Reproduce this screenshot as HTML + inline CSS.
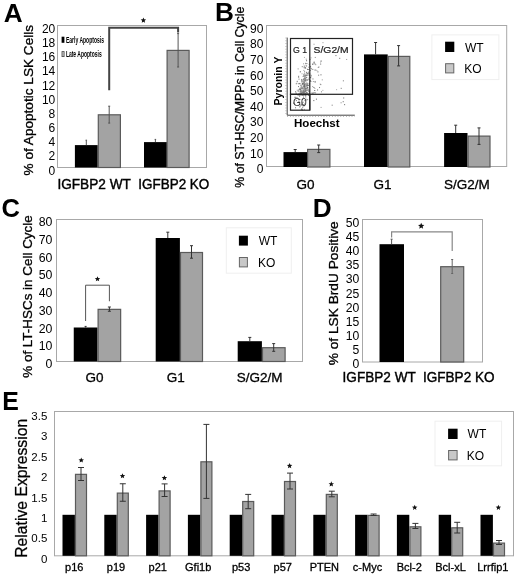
<!DOCTYPE html>
<html><head><meta charset="utf-8"><style>
html,body{margin:0;padding:0;background:#fff;}
svg{display:block;font-family:"Liberation Sans",sans-serif;filter:grayscale(100%);}
</style></head><body>
<svg width="520" height="581" viewBox="0 0 520 581">
<rect width="520" height="581" fill="#fff"/>
<text x="3.65" y="21.9" font-size="26.2" font-weight="bold" text-anchor="start" fill="#000" >A</text>
<rect x="57.5" y="25.5" width="149" height="142" fill="none" stroke="#a8a8a8" stroke-width="1"/>
<text x="55.3" y="174.6" font-size="12" font-weight="normal" text-anchor="end" fill="#000" >0</text>
<text x="55.3" y="160.43" font-size="12" font-weight="normal" text-anchor="end" fill="#000" >2</text>
<text x="55.3" y="146.27" font-size="12" font-weight="normal" text-anchor="end" fill="#000" >4</text>
<text x="55.3" y="132.1" font-size="12" font-weight="normal" text-anchor="end" fill="#000" >6</text>
<text x="55.3" y="117.94" font-size="12" font-weight="normal" text-anchor="end" fill="#000" >8</text>
<text x="55.3" y="103.77" font-size="12" font-weight="normal" text-anchor="end" fill="#000" >10</text>
<text x="55.3" y="89.61" font-size="12" font-weight="normal" text-anchor="end" fill="#000" >12</text>
<text x="55.3" y="75.44" font-size="12" font-weight="normal" text-anchor="end" fill="#000" >14</text>
<text x="55.3" y="61.28" font-size="12" font-weight="normal" text-anchor="end" fill="#000" >16</text>
<text x="55.3" y="47.11" font-size="12" font-weight="normal" text-anchor="end" fill="#000" >18</text>
<text x="55.3" y="32.95" font-size="12" font-weight="normal" text-anchor="end" fill="#000" >20</text>
<text transform="translate(32.53,100.2) rotate(-90)" x="0" y="0" font-size="13.2" font-weight="normal" text-anchor="middle" fill="#000" textLength="150.5" lengthAdjust="spacingAndGlyphs" stroke="#000" stroke-width="0.3">% of Apoptotic LSK Cells</text>
<rect x="74.9" y="145.1" width="22.8" height="22.4" fill="#000"/>
<rect x="98.3" y="114.8" width="22.1" height="52.7" fill="#a3a3a3" stroke="#5a5a5a" stroke-width="1.2"/>
<line x1="86.3" y1="140.2" x2="86.3" y2="145.1" stroke="#555" stroke-width="1" />
<line x1="85.55" y1="140.2" x2="87.05" y2="140.2" stroke="#555" stroke-width="1" />
<line x1="109.2" y1="106.2" x2="109.2" y2="123.1" stroke="#555" stroke-width="1" />
<line x1="108.2" y1="106.2" x2="110.2" y2="106.2" stroke="#555" stroke-width="1" />
<line x1="108.2" y1="123.1" x2="110.2" y2="123.1" stroke="#555" stroke-width="1" />
<rect x="144" y="142.1" width="22.9" height="25.4" fill="#000"/>
<line x1="155.4" y1="139.4" x2="155.4" y2="142.1" stroke="#555" stroke-width="1" />
<line x1="154.65" y1="139.4" x2="156.15" y2="139.4" stroke="#555" stroke-width="1" />
<rect x="167.1" y="50.4" width="22" height="117.1" fill="#a3a3a3" stroke="#5a5a5a" stroke-width="1.2"/>
<line x1="178.1" y1="33.6" x2="178.1" y2="67" stroke="#555" stroke-width="1" />
<line x1="177.1" y1="33.6" x2="179.1" y2="33.6" stroke="#555" stroke-width="1" />
<line x1="177.1" y1="67" x2="179.1" y2="67" stroke="#555" stroke-width="1" />
<polyline points="109.2,90.2 109.2,27.7 178.1,27.7 178.1,32.5" fill="none" stroke="#444" stroke-width="2"/>
<polygon points="143.4,17.54 144.15,19.35 146.11,19.5 144.62,20.78 145.08,22.69 143.4,21.67 141.72,22.69 142.18,20.78 140.69,19.5 142.65,19.35" fill="#111"/>
<rect x="61.6" y="36.7" width="2.8" height="6.1" fill="#000"/>
<rect x="62" y="51.6" width="2.1" height="5" fill="#ccc" stroke="#444" stroke-width="0.8"/>
<text x="65.9" y="42.7" font-size="9.6" font-weight="bold" text-anchor="start" fill="#000" textLength="38.1" lengthAdjust="spacingAndGlyphs">Early Apoptosis</text>
<text x="65.9" y="56.8" font-size="9.6" font-weight="bold" text-anchor="start" fill="#000" textLength="35.8" lengthAdjust="spacingAndGlyphs">Late Apoptosis</text>
<text x="57.4" y="188.7" font-size="13.8" font-weight="normal" text-anchor="start" fill="#000" textLength="73.5" lengthAdjust="spacingAndGlyphs" stroke="#000" stroke-width="0.4">IGFBP2 WT</text>
<text x="138.3" y="188.7" font-size="13.8" font-weight="normal" text-anchor="start" fill="#000" textLength="71" lengthAdjust="spacingAndGlyphs" stroke="#000" stroke-width="0.4">IGFBP2 KO</text>
<text x="214.9" y="21.1" font-size="26.2" font-weight="bold" text-anchor="start" fill="#000" >B</text>
<rect x="266.5" y="25.5" width="240.2" height="141" fill="none" stroke="#a8a8a8" stroke-width="1"/>
<text x="263.4" y="173.1" font-size="12" font-weight="normal" text-anchor="end" fill="#000" >0</text>
<text x="263.4" y="157.51" font-size="12" font-weight="normal" text-anchor="end" fill="#000" >10</text>
<text x="263.4" y="141.92" font-size="12" font-weight="normal" text-anchor="end" fill="#000" >20</text>
<text x="263.4" y="126.33" font-size="12" font-weight="normal" text-anchor="end" fill="#000" >30</text>
<text x="263.4" y="110.74" font-size="12" font-weight="normal" text-anchor="end" fill="#000" >40</text>
<text x="263.4" y="95.15" font-size="12" font-weight="normal" text-anchor="end" fill="#000" >50</text>
<text x="263.4" y="79.56" font-size="12" font-weight="normal" text-anchor="end" fill="#000" >60</text>
<text x="263.4" y="63.97" font-size="12" font-weight="normal" text-anchor="end" fill="#000" >70</text>
<text x="263.4" y="48.38" font-size="12" font-weight="normal" text-anchor="end" fill="#000" >80</text>
<text x="263.4" y="32.8" font-size="12" font-weight="normal" text-anchor="end" fill="#000" >90</text>
<text transform="translate(243.9,97.2) rotate(-90)" x="0" y="0" font-size="12" font-weight="normal" text-anchor="middle" fill="#000" textLength="181" lengthAdjust="spacingAndGlyphs" stroke="#000" stroke-width="0.3">% of ST-HSC/MPPs in Cell Cycle</text>
<rect x="283.5" y="152.1" width="23.5" height="14.9" fill="#000"/>
<line x1="295.2" y1="149.5" x2="295.2" y2="152.1" stroke="#333" stroke-width="1" />
<line x1="293.7" y1="149.5" x2="296.7" y2="149.5" stroke="#333" stroke-width="1" />
<rect x="307.6" y="149.4" width="22.3" height="17.6" fill="#a3a3a3" stroke="#5a5a5a" stroke-width="1.2"/>
<line x1="318.7" y1="145" x2="318.7" y2="152.6" stroke="#333" stroke-width="1" />
<line x1="317.2" y1="145" x2="320.2" y2="145" stroke="#333" stroke-width="1" />
<line x1="317.2" y1="152.6" x2="320.2" y2="152.6" stroke="#333" stroke-width="1" />
<rect x="364" y="54.4" width="23.7" height="112.6" fill="#000"/>
<line x1="375.6" y1="42.5" x2="375.6" y2="54.4" stroke="#333" stroke-width="1" />
<line x1="374.1" y1="42.5" x2="377.1" y2="42.5" stroke="#333" stroke-width="1" />
<rect x="388.3" y="56.4" width="21.5" height="110.6" fill="#a3a3a3" stroke="#5a5a5a" stroke-width="1.2"/>
<line x1="398.6" y1="45.6" x2="398.6" y2="65.9" stroke="#333" stroke-width="1" />
<line x1="397.1" y1="45.6" x2="400.1" y2="45.6" stroke="#333" stroke-width="1" />
<line x1="397.1" y1="65.9" x2="400.1" y2="65.9" stroke="#333" stroke-width="1" />
<rect x="444.1" y="133" width="23.4" height="34" fill="#000"/>
<line x1="455.7" y1="125.2" x2="455.7" y2="133" stroke="#333" stroke-width="1" />
<line x1="454.2" y1="125.2" x2="457.2" y2="125.2" stroke="#333" stroke-width="1" />
<rect x="468.1" y="136.1" width="21.9" height="30.9" fill="#a3a3a3" stroke="#5a5a5a" stroke-width="1.2"/>
<line x1="479" y1="127.9" x2="479" y2="144.4" stroke="#333" stroke-width="1" />
<line x1="477.5" y1="127.9" x2="480.5" y2="127.9" stroke="#333" stroke-width="1" />
<line x1="477.5" y1="144.4" x2="480.5" y2="144.4" stroke="#333" stroke-width="1" />
<rect x="431.9" y="34.9" width="67" height="44.7" fill="none" stroke="#efefef" stroke-width="1"/>
<rect x="445.1" y="41.7" width="9.2" height="10.3" fill="#000"/>
<rect x="445.6" y="63.7" width="8.2" height="9.2" fill="#c8c8c8" stroke="#666" stroke-width="1"/>
<text x="465" y="51.6" font-size="12" font-weight="normal" text-anchor="start" fill="#000" >WT</text>
<text x="464.2" y="73.4" font-size="12" font-weight="normal" text-anchor="start" fill="#000" >KO</text>
<text x="305.4" y="188.5" font-size="13.5" font-weight="normal" text-anchor="middle" fill="#000" stroke="#000" stroke-width="0.3">G0</text>
<text x="382.5" y="188.5" font-size="13.5" font-weight="normal" text-anchor="middle" fill="#000" stroke="#000" stroke-width="0.3">G1</text>
<text x="466.9" y="188.5" font-size="13.5" font-weight="normal" text-anchor="middle" fill="#000" stroke="#000" stroke-width="0.3">S/G2/M</text>
<rect x="304.57" y="91.42" width="1" height="1" fill="#777"/>
<rect x="301.87" y="91.83" width="1" height="1" fill="#666"/>
<rect x="303.38" y="81.98" width="1" height="1" fill="#888"/>
<rect x="305.73" y="79.43" width="1" height="1" fill="#888"/>
<rect x="305.04" y="80.48" width="1" height="1" fill="#777"/>
<rect x="303.76" y="89.47" width="1" height="1" fill="#666"/>
<rect x="308.04" y="71.68" width="1" height="1" fill="#777"/>
<rect x="304.95" y="87.91" width="1" height="1" fill="#888"/>
<rect x="299.76" y="71.32" width="1" height="1" fill="#666"/>
<rect x="302.5" y="82.55" width="1" height="1" fill="#aaa"/>
<rect x="302.87" y="90.72" width="1" height="1" fill="#777"/>
<rect x="301.32" y="87.71" width="1" height="1" fill="#666"/>
<rect x="304.28" y="90.68" width="1" height="1" fill="#888"/>
<rect x="309.11" y="85.74" width="1" height="1" fill="#999"/>
<rect x="307.27" y="87.21" width="1" height="1" fill="#888"/>
<rect x="301.18" y="86.32" width="1" height="1" fill="#777"/>
<rect x="302.74" y="90.18" width="1" height="1" fill="#aaa"/>
<rect x="304.36" y="86.15" width="1" height="1" fill="#888"/>
<rect x="300.19" y="88.74" width="1" height="1" fill="#666"/>
<rect x="307.28" y="87.71" width="1" height="1" fill="#777"/>
<rect x="304.64" y="83.69" width="1" height="1" fill="#666"/>
<rect x="298.45" y="89.03" width="1" height="1" fill="#999"/>
<rect x="306.76" y="94.32" width="1" height="1" fill="#aaa"/>
<rect x="304.86" y="66.8" width="1" height="1" fill="#999"/>
<rect x="300.06" y="93.51" width="1" height="1" fill="#666"/>
<rect x="303.14" y="88.04" width="1" height="1" fill="#999"/>
<rect x="307.61" y="74.49" width="1" height="1" fill="#666"/>
<rect x="306.65" y="85.63" width="1" height="1" fill="#999"/>
<rect x="306.08" y="74.83" width="1" height="1" fill="#aaa"/>
<rect x="298.54" y="93.33" width="1" height="1" fill="#777"/>
<rect x="301.58" y="86.38" width="1" height="1" fill="#aaa"/>
<rect x="299.21" y="88.66" width="1" height="1" fill="#666"/>
<rect x="302.43" y="81.45" width="1" height="1" fill="#777"/>
<rect x="298.16" y="76.96" width="1" height="1" fill="#999"/>
<rect x="305.71" y="74.59" width="1" height="1" fill="#888"/>
<rect x="306.78" y="74.79" width="1" height="1" fill="#999"/>
<rect x="297.63" y="68.4" width="1" height="1" fill="#888"/>
<rect x="300.74" y="90" width="1" height="1" fill="#888"/>
<rect x="307.51" y="79.32" width="1" height="1" fill="#999"/>
<rect x="304.85" y="79.57" width="1" height="1" fill="#666"/>
<rect x="304.3" y="91.56" width="1" height="1" fill="#888"/>
<rect x="307.16" y="72.68" width="1" height="1" fill="#aaa"/>
<rect x="305.12" y="87.74" width="1" height="1" fill="#888"/>
<rect x="309.24" y="73.04" width="1" height="1" fill="#999"/>
<rect x="305.8" y="81.63" width="1" height="1" fill="#999"/>
<rect x="303.79" y="67.37" width="1" height="1" fill="#666"/>
<rect x="298.12" y="83.21" width="1" height="1" fill="#888"/>
<rect x="306.07" y="92.42" width="1" height="1" fill="#777"/>
<rect x="309.86" y="76.64" width="1" height="1" fill="#999"/>
<rect x="304.73" y="89.92" width="1" height="1" fill="#999"/>
<rect x="304.96" y="93.85" width="1" height="1" fill="#777"/>
<rect x="305.13" y="76.41" width="1" height="1" fill="#666"/>
<rect x="302.8" y="94.9" width="1" height="1" fill="#999"/>
<rect x="305.41" y="83.26" width="1" height="1" fill="#777"/>
<rect x="303.1" y="63.33" width="1" height="1" fill="#999"/>
<rect x="299.65" y="88.84" width="1" height="1" fill="#666"/>
<rect x="301.13" y="79.46" width="1" height="1" fill="#666"/>
<rect x="308.18" y="66.7" width="1" height="1" fill="#999"/>
<rect x="296.74" y="89.66" width="1" height="1" fill="#aaa"/>
<rect x="299.95" y="90.86" width="1" height="1" fill="#888"/>
<rect x="304.02" y="89.73" width="1" height="1" fill="#999"/>
<rect x="302.04" y="91.66" width="1" height="1" fill="#777"/>
<rect x="304.45" y="86.26" width="1" height="1" fill="#777"/>
<rect x="305.79" y="88.32" width="1" height="1" fill="#666"/>
<rect x="302.56" y="94.71" width="1" height="1" fill="#666"/>
<rect x="304.16" y="91.24" width="1" height="1" fill="#aaa"/>
<rect x="303.3" y="92.92" width="1" height="1" fill="#777"/>
<rect x="301" y="81.4" width="1" height="1" fill="#999"/>
<rect x="305.22" y="88.65" width="1" height="1" fill="#666"/>
<rect x="305.91" y="87.35" width="1" height="1" fill="#aaa"/>
<rect x="309.18" y="75.49" width="1" height="1" fill="#aaa"/>
<rect x="304.22" y="79.33" width="1" height="1" fill="#888"/>
<rect x="303.35" y="89.1" width="1" height="1" fill="#aaa"/>
<rect x="305.49" y="84.73" width="1" height="1" fill="#777"/>
<rect x="308.78" y="92.56" width="1" height="1" fill="#777"/>
<rect x="303.28" y="93.4" width="1" height="1" fill="#888"/>
<rect x="303.27" y="78.65" width="1" height="1" fill="#888"/>
<rect x="306.96" y="84.4" width="1" height="1" fill="#777"/>
<rect x="305.19" y="78.09" width="1" height="1" fill="#aaa"/>
<rect x="304.96" y="67.32" width="1" height="1" fill="#777"/>
<rect x="300.58" y="91.39" width="1" height="1" fill="#666"/>
<rect x="304.62" y="89.33" width="1" height="1" fill="#666"/>
<rect x="298.88" y="92.63" width="1" height="1" fill="#999"/>
<rect x="299.96" y="92.73" width="1" height="1" fill="#999"/>
<rect x="308.78" y="90.69" width="1" height="1" fill="#777"/>
<rect x="305.18" y="67.73" width="1" height="1" fill="#888"/>
<rect x="298.02" y="86.08" width="1" height="1" fill="#777"/>
<rect x="300.29" y="94.36" width="1" height="1" fill="#666"/>
<rect x="303.73" y="81.96" width="1" height="1" fill="#999"/>
<rect x="303.03" y="91.72" width="1" height="1" fill="#888"/>
<rect x="305.18" y="93.01" width="1" height="1" fill="#666"/>
<rect x="296.49" y="82.61" width="1" height="1" fill="#aaa"/>
<rect x="308.69" y="63.87" width="1" height="1" fill="#999"/>
<rect x="306.07" y="60.23" width="1" height="1" fill="#666"/>
<rect x="304.98" y="88.48" width="1" height="1" fill="#aaa"/>
<rect x="304.76" y="93.66" width="1" height="1" fill="#777"/>
<rect x="307.46" y="89.46" width="1" height="1" fill="#777"/>
<rect x="301.51" y="73.27" width="1" height="1" fill="#aaa"/>
<rect x="305.52" y="74.8" width="1" height="1" fill="#999"/>
<rect x="301.44" y="93.19" width="1" height="1" fill="#aaa"/>
<rect x="298.52" y="78.64" width="1" height="1" fill="#777"/>
<rect x="297.84" y="90.3" width="1" height="1" fill="#999"/>
<rect x="303.82" y="86.3" width="1" height="1" fill="#777"/>
<rect x="300.08" y="91.94" width="1" height="1" fill="#aaa"/>
<rect x="295.8" y="83.27" width="1" height="1" fill="#777"/>
<rect x="305.82" y="83.75" width="1" height="1" fill="#666"/>
<rect x="303.36" y="73.76" width="1" height="1" fill="#999"/>
<rect x="304.38" y="91.48" width="1" height="1" fill="#aaa"/>
<rect x="310.27" y="77.33" width="1" height="1" fill="#777"/>
<rect x="309.17" y="79.09" width="1" height="1" fill="#999"/>
<rect x="304.36" y="74.67" width="1" height="1" fill="#888"/>
<rect x="307.01" y="84.58" width="1" height="1" fill="#666"/>
<rect x="303.09" y="93.39" width="1" height="1" fill="#777"/>
<rect x="304.05" y="75.06" width="1" height="1" fill="#777"/>
<rect x="305.12" y="62.85" width="1" height="1" fill="#777"/>
<rect x="308.23" y="69.05" width="1" height="1" fill="#666"/>
<rect x="301.08" y="90.56" width="1" height="1" fill="#aaa"/>
<rect x="305.18" y="94.87" width="1" height="1" fill="#666"/>
<rect x="306.88" y="93.89" width="1" height="1" fill="#888"/>
<rect x="305.93" y="94.14" width="1" height="1" fill="#666"/>
<rect x="305.75" y="77.11" width="1" height="1" fill="#999"/>
<rect x="302.06" y="82.94" width="1" height="1" fill="#aaa"/>
<rect x="302.36" y="80.64" width="1" height="1" fill="#999"/>
<rect x="303.73" y="78.29" width="1" height="1" fill="#aaa"/>
<rect x="304.7" y="80.03" width="1" height="1" fill="#888"/>
<rect x="302.82" y="94.49" width="1" height="1" fill="#999"/>
<rect x="300.94" y="92.38" width="1" height="1" fill="#888"/>
<rect x="306.02" y="72.81" width="1" height="1" fill="#aaa"/>
<rect x="302.91" y="83.34" width="1" height="1" fill="#777"/>
<rect x="304.16" y="77.29" width="1" height="1" fill="#999"/>
<rect x="301.19" y="93.58" width="1" height="1" fill="#999"/>
<rect x="302.79" y="85.17" width="1" height="1" fill="#888"/>
<rect x="308.41" y="90.95" width="1" height="1" fill="#999"/>
<rect x="304.46" y="77.04" width="1" height="1" fill="#aaa"/>
<rect x="295.68" y="93.06" width="1" height="1" fill="#999"/>
<rect x="306.21" y="76.93" width="1" height="1" fill="#777"/>
<rect x="304.38" y="78.24" width="1" height="1" fill="#666"/>
<rect x="299.86" y="89.59" width="1" height="1" fill="#666"/>
<rect x="303.62" y="79.38" width="1" height="1" fill="#aaa"/>
<rect x="303.15" y="74.75" width="1" height="1" fill="#999"/>
<rect x="300.01" y="71.14" width="1" height="1" fill="#999"/>
<rect x="306.72" y="93.92" width="1" height="1" fill="#777"/>
<rect x="303.38" y="69.88" width="1" height="1" fill="#999"/>
<rect x="304.29" y="90.36" width="1" height="1" fill="#aaa"/>
<rect x="303.55" y="89.92" width="1" height="1" fill="#999"/>
<rect x="303.78" y="94.68" width="1" height="1" fill="#777"/>
<rect x="299.03" y="83.12" width="1" height="1" fill="#999"/>
<rect x="302.16" y="88.53" width="1" height="1" fill="#999"/>
<rect x="298.43" y="90.65" width="1" height="1" fill="#666"/>
<rect x="309.85" y="76.94" width="1" height="1" fill="#666"/>
<rect x="303.85" y="91.61" width="1" height="1" fill="#777"/>
<rect x="299.86" y="87.78" width="1" height="1" fill="#888"/>
<rect x="302.22" y="87.97" width="1" height="1" fill="#999"/>
<rect x="301.3" y="87.17" width="1" height="1" fill="#888"/>
<rect x="308.98" y="74.64" width="1" height="1" fill="#666"/>
<rect x="302.19" y="92.83" width="1" height="1" fill="#999"/>
<rect x="300.42" y="94.02" width="1" height="1" fill="#aaa"/>
<rect x="303.39" y="77.93" width="1" height="1" fill="#aaa"/>
<rect x="308.16" y="94.61" width="1" height="1" fill="#666"/>
<rect x="304.26" y="92.69" width="1" height="1" fill="#666"/>
<rect x="302.55" y="93.83" width="1" height="1" fill="#777"/>
<rect x="303.44" y="91.04" width="1" height="1" fill="#666"/>
<rect x="306.11" y="84.07" width="1" height="1" fill="#888"/>
<rect x="308.8" y="84.34" width="1" height="1" fill="#aaa"/>
<rect x="304.04" y="81.33" width="1" height="1" fill="#666"/>
<rect x="307.09" y="87.05" width="1" height="1" fill="#666"/>
<rect x="303.14" y="86.15" width="1" height="1" fill="#aaa"/>
<rect x="307.76" y="89.23" width="1" height="1" fill="#999"/>
<rect x="302.3" y="87.44" width="1" height="1" fill="#777"/>
<rect x="307" y="92.55" width="1" height="1" fill="#666"/>
<rect x="303.83" y="87.5" width="1" height="1" fill="#666"/>
<rect x="303.9" y="89.45" width="1" height="1" fill="#aaa"/>
<rect x="305.28" y="90.92" width="1" height="1" fill="#666"/>
<rect x="301.75" y="83.31" width="1" height="1" fill="#777"/>
<rect x="306.57" y="79.95" width="1" height="1" fill="#777"/>
<rect x="305.78" y="90.08" width="1" height="1" fill="#999"/>
<rect x="304.1" y="82.57" width="1" height="1" fill="#888"/>
<rect x="303.85" y="88.28" width="1" height="1" fill="#777"/>
<rect x="303.78" y="91.18" width="1" height="1" fill="#777"/>
<rect x="302.06" y="83.44" width="1" height="1" fill="#666"/>
<rect x="304.23" y="72.76" width="1" height="1" fill="#888"/>
<rect x="305.71" y="79.03" width="1" height="1" fill="#aaa"/>
<rect x="306.31" y="83.38" width="1" height="1" fill="#888"/>
<rect x="307.82" y="93.79" width="1" height="1" fill="#777"/>
<rect x="300.79" y="92.81" width="1" height="1" fill="#888"/>
<rect x="295.46" y="92.14" width="1" height="1" fill="#aaa"/>
<rect x="307.76" y="89.84" width="1" height="1" fill="#888"/>
<rect x="301.02" y="78.97" width="1" height="1" fill="#999"/>
<rect x="304.93" y="88.24" width="1" height="1" fill="#777"/>
<rect x="299.07" y="82.94" width="1" height="1" fill="#888"/>
<rect x="305.52" y="94.1" width="1" height="1" fill="#aaa"/>
<rect x="305.15" y="93.59" width="1" height="1" fill="#999"/>
<rect x="302.65" y="75.94" width="1" height="1" fill="#777"/>
<rect x="303.17" y="84.25" width="1" height="1" fill="#aaa"/>
<rect x="303.8" y="91.17" width="1" height="1" fill="#888"/>
<rect x="302.83" y="91.1" width="1" height="1" fill="#aaa"/>
<rect x="304.49" y="84.26" width="1" height="1" fill="#aaa"/>
<rect x="306.61" y="89.97" width="1" height="1" fill="#777"/>
<rect x="304.11" y="71.22" width="1" height="1" fill="#888"/>
<rect x="303.83" y="85" width="1" height="1" fill="#888"/>
<rect x="302.08" y="83.35" width="1" height="1" fill="#666"/>
<rect x="300.39" y="92.93" width="1" height="1" fill="#777"/>
<rect x="303.86" y="86.07" width="1" height="1" fill="#777"/>
<rect x="305.76" y="58.67" width="1" height="1" fill="#999"/>
<rect x="307.11" y="82.76" width="1" height="1" fill="#777"/>
<rect x="298.78" y="94.91" width="1" height="1" fill="#888"/>
<rect x="303.97" y="92.37" width="1" height="1" fill="#888"/>
<rect x="306.9" y="79.18" width="1" height="1" fill="#999"/>
<rect x="305.27" y="94.66" width="1" height="1" fill="#777"/>
<rect x="304.07" y="87.44" width="1" height="1" fill="#888"/>
<rect x="301.81" y="94.23" width="1" height="1" fill="#666"/>
<rect x="300.28" y="85.39" width="1" height="1" fill="#aaa"/>
<rect x="303.57" y="86.2" width="1" height="1" fill="#666"/>
<rect x="303.56" y="74.5" width="1" height="1" fill="#888"/>
<rect x="303.69" y="66.88" width="1" height="1" fill="#999"/>
<rect x="305.27" y="87.04" width="1" height="1" fill="#aaa"/>
<rect x="301.85" y="94.24" width="1" height="1" fill="#aaa"/>
<rect x="310.73" y="75.16" width="1" height="1" fill="#aaa"/>
<rect x="299.74" y="87.78" width="1" height="1" fill="#666"/>
<rect x="305.13" y="78.66" width="1" height="1" fill="#888"/>
<rect x="299.6" y="87.91" width="1" height="1" fill="#aaa"/>
<rect x="305.74" y="92.53" width="1" height="1" fill="#999"/>
<rect x="307.07" y="73.22" width="1" height="1" fill="#888"/>
<rect x="308.26" y="78.55" width="1" height="1" fill="#888"/>
<rect x="303.28" y="81.77" width="1" height="1" fill="#999"/>
<rect x="305.32" y="85.51" width="1" height="1" fill="#888"/>
<rect x="301.71" y="93.54" width="1" height="1" fill="#aaa"/>
<rect x="305.21" y="89.94" width="1" height="1" fill="#777"/>
<rect x="301.22" y="79.64" width="1" height="1" fill="#888"/>
<rect x="302.63" y="80.87" width="1" height="1" fill="#888"/>
<rect x="309.99" y="80.29" width="1" height="1" fill="#666"/>
<rect x="298.6" y="94.48" width="1" height="1" fill="#999"/>
<rect x="301.9" y="94.68" width="1" height="1" fill="#777"/>
<rect x="302.82" y="90.64" width="1" height="1" fill="#777"/>
<rect x="306.02" y="84.36" width="1" height="1" fill="#aaa"/>
<rect x="302.81" y="90.04" width="1" height="1" fill="#666"/>
<rect x="303.07" y="85.59" width="1" height="1" fill="#888"/>
<rect x="303.93" y="56.9" width="1" height="1" fill="#aaa"/>
<rect x="297.75" y="94.48" width="1" height="1" fill="#888"/>
<rect x="303.31" y="92.21" width="1" height="1" fill="#888"/>
<rect x="304.01" y="75.71" width="1" height="1" fill="#aaa"/>
<rect x="304.5" y="90.61" width="1" height="1" fill="#888"/>
<rect x="303.41" y="86.43" width="1" height="1" fill="#666"/>
<rect x="303.47" y="83.08" width="1" height="1" fill="#666"/>
<rect x="304.96" y="94.08" width="1" height="1" fill="#777"/>
<rect x="300.68" y="90.88" width="1" height="1" fill="#777"/>
<rect x="303.58" y="76.04" width="1" height="1" fill="#888"/>
<rect x="300.19" y="84.63" width="1" height="1" fill="#aaa"/>
<rect x="301.12" y="93.38" width="1" height="1" fill="#999"/>
<rect x="304.35" y="93.52" width="1" height="1" fill="#999"/>
<rect x="297.31" y="90.5" width="1" height="1" fill="#aaa"/>
<rect x="306.72" y="88.39" width="1" height="1" fill="#888"/>
<rect x="302.61" y="91.96" width="1" height="1" fill="#666"/>
<rect x="305.72" y="85.46" width="1" height="1" fill="#777"/>
<rect x="301.34" y="91.77" width="1" height="1" fill="#999"/>
<rect x="295.14" y="91.21" width="1" height="1" fill="#777"/>
<rect x="307.11" y="89.79" width="1" height="1" fill="#aaa"/>
<rect x="298.13" y="75.81" width="1" height="1" fill="#666"/>
<rect x="302.02" y="93.39" width="1" height="1" fill="#666"/>
<rect x="306.62" y="85.28" width="1" height="1" fill="#666"/>
<rect x="303.93" y="85.32" width="1" height="1" fill="#666"/>
<rect x="299.02" y="94.82" width="1" height="1" fill="#aaa"/>
<rect x="302.03" y="94.2" width="1" height="1" fill="#888"/>
<rect x="301.82" y="87.7" width="1" height="1" fill="#888"/>
<rect x="303.82" y="84.86" width="1" height="1" fill="#666"/>
<rect x="302.61" y="94.3" width="1" height="1" fill="#aaa"/>
<rect x="311.04" y="68.24" width="1" height="1" fill="#888"/>
<rect x="307.28" y="73.1" width="1" height="1" fill="#aaa"/>
<rect x="301.09" y="88.28" width="1" height="1" fill="#777"/>
<rect x="307.98" y="84.94" width="1" height="1" fill="#999"/>
<rect x="300.35" y="94.86" width="1" height="1" fill="#aaa"/>
<rect x="303.7" y="83.64" width="1" height="1" fill="#888"/>
<rect x="307.9" y="90.65" width="1" height="1" fill="#aaa"/>
<rect x="302.74" y="79.16" width="1" height="1" fill="#777"/>
<rect x="306.35" y="63.03" width="1" height="1" fill="#777"/>
<rect x="301.75" y="84" width="1" height="1" fill="#888"/>
<rect x="296.98" y="94.37" width="1" height="1" fill="#aaa"/>
<rect x="309.87" y="69.99" width="1" height="1" fill="#999"/>
<rect x="304.37" y="77.78" width="1" height="1" fill="#777"/>
<rect x="302.64" y="90.62" width="1" height="1" fill="#777"/>
<rect x="304.41" y="79.77" width="1" height="1" fill="#666"/>
<rect x="304.69" y="74.87" width="1" height="1" fill="#777"/>
<rect x="304.52" y="90.68" width="1" height="1" fill="#777"/>
<rect x="300" y="91.76" width="1" height="1" fill="#999"/>
<rect x="301.22" y="92.77" width="1" height="1" fill="#666"/>
<rect x="307.59" y="73.08" width="1" height="1" fill="#666"/>
<rect x="301.19" y="93.39" width="1" height="1" fill="#777"/>
<rect x="300.68" y="85.16" width="1" height="1" fill="#888"/>
<rect x="304.04" y="90.06" width="1" height="1" fill="#999"/>
<rect x="305.19" y="87.78" width="1" height="1" fill="#888"/>
<rect x="303.77" y="65.62" width="1" height="1" fill="#666"/>
<rect x="306.97" y="68.86" width="1" height="1" fill="#666"/>
<rect x="305.81" y="87.96" width="1" height="1" fill="#aaa"/>
<rect x="305.32" y="88.09" width="1" height="1" fill="#888"/>
<rect x="302.95" y="89.39" width="1" height="1" fill="#aaa"/>
<rect x="308.72" y="76.85" width="1" height="1" fill="#aaa"/>
<rect x="301.5" y="79.84" width="1" height="1" fill="#999"/>
<rect x="300.33" y="87.46" width="1" height="1" fill="#aaa"/>
<rect x="302.14" y="92.94" width="1" height="1" fill="#aaa"/>
<rect x="301.57" y="90.74" width="1" height="1" fill="#999"/>
<rect x="309.5" y="58.87" width="1" height="1" fill="#777"/>
<rect x="299.54" y="83.22" width="1" height="1" fill="#777"/>
<rect x="305.48" y="74.7" width="1" height="1" fill="#666"/>
<rect x="303.84" y="84.12" width="1" height="1" fill="#666"/>
<rect x="296.71" y="80.86" width="1" height="1" fill="#666"/>
<rect x="307.67" y="83.41" width="1" height="1" fill="#aaa"/>
<rect x="306.09" y="71.86" width="1" height="1" fill="#666"/>
<rect x="300.85" y="94.51" width="1" height="1" fill="#999"/>
<rect x="301.76" y="66.19" width="1" height="1" fill="#777"/>
<rect x="306.06" y="91.89" width="1" height="1" fill="#777"/>
<rect x="307.86" y="94.98" width="1" height="1" fill="#777"/>
<rect x="309.16" y="83.39" width="1" height="1" fill="#666"/>
<rect x="306.06" y="65.45" width="1" height="1" fill="#666"/>
<rect x="305.51" y="88.27" width="1" height="1" fill="#666"/>
<rect x="301.03" y="80.96" width="1" height="1" fill="#aaa"/>
<rect x="305.33" y="64.63" width="1" height="1" fill="#aaa"/>
<rect x="305.22" y="75.1" width="1" height="1" fill="#777"/>
<rect x="303.49" y="79.59" width="1" height="1" fill="#777"/>
<rect x="303.12" y="93.74" width="1" height="1" fill="#999"/>
<rect x="307.73" y="85.02" width="1" height="1" fill="#777"/>
<rect x="303.11" y="85.28" width="1" height="1" fill="#aaa"/>
<rect x="303.28" y="88.09" width="1" height="1" fill="#aaa"/>
<rect x="304.39" y="75.09" width="1" height="1" fill="#aaa"/>
<rect x="310.77" y="75.45" width="1" height="1" fill="#999"/>
<rect x="316.41" y="70.14" width="1" height="1" fill="#aaa"/>
<rect x="312.46" y="78.44" width="1" height="1" fill="#777"/>
<rect x="310.12" y="66.76" width="1" height="1" fill="#aaa"/>
<rect x="315.07" y="92.4" width="1" height="1" fill="#888"/>
<rect x="317.09" y="89.47" width="1" height="1" fill="#666"/>
<rect x="315.23" y="64.16" width="1" height="1" fill="#888"/>
<rect x="312.72" y="92.46" width="1" height="1" fill="#666"/>
<rect x="317.75" y="66.99" width="1" height="1" fill="#999"/>
<rect x="310.24" y="74.43" width="1" height="1" fill="#aaa"/>
<rect x="317.42" y="71.38" width="1" height="1" fill="#666"/>
<rect x="312.83" y="81.03" width="1" height="1" fill="#999"/>
<rect x="320.18" y="63.84" width="1" height="1" fill="#999"/>
<rect x="310.38" y="68.18" width="1" height="1" fill="#999"/>
<rect x="314.63" y="81.62" width="1" height="1" fill="#666"/>
<rect x="312.18" y="86.09" width="1" height="1" fill="#999"/>
<rect x="318.13" y="74.69" width="1" height="1" fill="#777"/>
<rect x="312.26" y="92.82" width="1" height="1" fill="#777"/>
<rect x="313.43" y="86.98" width="1" height="1" fill="#666"/>
<rect x="312.54" y="63.64" width="1" height="1" fill="#888"/>
<rect x="318.37" y="66.5" width="1" height="1" fill="#777"/>
<rect x="320.47" y="74.33" width="1" height="1" fill="#666"/>
<rect x="312.06" y="63.71" width="1" height="1" fill="#666"/>
<rect x="314.59" y="80.95" width="1" height="1" fill="#888"/>
<rect x="320.44" y="60.71" width="1" height="1" fill="#888"/>
<rect x="314.33" y="63.31" width="1" height="1" fill="#666"/>
<rect x="320.72" y="60.53" width="1" height="1" fill="#888"/>
<rect x="310.57" y="57.35" width="1" height="1" fill="#aaa"/>
<rect x="314.33" y="90.03" width="1" height="1" fill="#999"/>
<rect x="319.72" y="83.58" width="1" height="1" fill="#aaa"/>
<rect x="320.97" y="91.33" width="1" height="1" fill="#888"/>
<rect x="313.62" y="62.23" width="1" height="1" fill="#888"/>
<rect x="320.29" y="84.11" width="1" height="1" fill="#777"/>
<rect x="310.35" y="80.91" width="1" height="1" fill="#666"/>
<rect x="314.16" y="69.58" width="1" height="1" fill="#aaa"/>
<rect x="313.65" y="61.6" width="1" height="1" fill="#666"/>
<rect x="310.03" y="65.91" width="1" height="1" fill="#777"/>
<rect x="313.87" y="92.27" width="1" height="1" fill="#888"/>
<rect x="311.36" y="92.61" width="1" height="1" fill="#777"/>
<rect x="312.28" y="68.91" width="1" height="1" fill="#777"/>
<rect x="319.04" y="87.06" width="1" height="1" fill="#777"/>
<rect x="314.76" y="56.92" width="1" height="1" fill="#888"/>
<rect x="315.21" y="69.54" width="1" height="1" fill="#777"/>
<rect x="320.11" y="62.53" width="1" height="1" fill="#999"/>
<rect x="314.01" y="89.98" width="1" height="1" fill="#888"/>
<rect x="313.15" y="62.54" width="1" height="1" fill="#aaa"/>
<rect x="342.85" y="80.33" width="1" height="1" fill="#777"/>
<rect x="313.54" y="43.74" width="1" height="1" fill="#999"/>
<rect x="314.38" y="88" width="1" height="1" fill="#aaa"/>
<rect x="321.77" y="79.36" width="1" height="1" fill="#999"/>
<rect x="346.14" y="58.95" width="1" height="1" fill="#999"/>
<rect x="322.35" y="89.88" width="1" height="1" fill="#aaa"/>
<rect x="335.45" y="55.11" width="1" height="1" fill="#666"/>
<rect x="339.23" y="57.82" width="1" height="1" fill="#666"/>
<rect x="322.47" y="42.19" width="1" height="1" fill="#999"/>
<rect x="340.71" y="87.82" width="1" height="1" fill="#777"/>
<rect x="336.09" y="89.16" width="1" height="1" fill="#aaa"/>
<rect x="299.11" y="95.84" width="1" height="1" fill="#888"/>
<rect x="300.84" y="108.89" width="1" height="1" fill="#777"/>
<rect x="303.89" y="108.85" width="1" height="1" fill="#999"/>
<rect x="298.77" y="101.52" width="1" height="1" fill="#aaa"/>
<rect x="301.99" y="102.41" width="1" height="1" fill="#aaa"/>
<rect x="302.22" y="106.74" width="1" height="1" fill="#666"/>
<rect x="299.67" y="105.84" width="1" height="1" fill="#aaa"/>
<rect x="302.78" y="104" width="1" height="1" fill="#777"/>
<rect x="295.87" y="100.09" width="1" height="1" fill="#777"/>
<rect x="299.3" y="106.45" width="1" height="1" fill="#666"/>
<rect x="303.08" y="96.61" width="1" height="1" fill="#666"/>
<rect x="302.13" y="98.96" width="1" height="1" fill="#666"/>
<rect x="305.24" y="96.41" width="1" height="1" fill="#666"/>
<rect x="304.22" y="100.06" width="1" height="1" fill="#aaa"/>
<rect x="301.3" y="109.22" width="1" height="1" fill="#777"/>
<rect x="307.13" y="99.21" width="1" height="1" fill="#888"/>
<rect x="294.55" y="96.68" width="1" height="1" fill="#777"/>
<rect x="303.4" y="105.44" width="1" height="1" fill="#666"/>
<rect x="302.51" y="101.76" width="1" height="1" fill="#666"/>
<rect x="300.81" y="104.18" width="1" height="1" fill="#666"/>
<rect x="303.6" y="104.94" width="1" height="1" fill="#777"/>
<rect x="300.43" y="104.8" width="1" height="1" fill="#666"/>
<rect x="294.69" y="97.2" width="1" height="1" fill="#666"/>
<rect x="301.85" y="103.44" width="1" height="1" fill="#666"/>
<rect x="298.39" y="100.72" width="1" height="1" fill="#666"/>
<rect x="300.35" y="98.96" width="1" height="1" fill="#aaa"/>
<rect x="298.51" y="98.93" width="1" height="1" fill="#888"/>
<rect x="304.06" y="103.6" width="1" height="1" fill="#777"/>
<rect x="305.61" y="100.07" width="1" height="1" fill="#aaa"/>
<rect x="293.05" y="102.6" width="1" height="1" fill="#666"/>
<rect x="306.2" y="98.74" width="1" height="1" fill="#999"/>
<rect x="302.07" y="109.37" width="1" height="1" fill="#666"/>
<rect x="296.42" y="96.93" width="1" height="1" fill="#777"/>
<rect x="295.02" y="107.27" width="1" height="1" fill="#777"/>
<rect x="301.38" y="108.3" width="1" height="1" fill="#777"/>
<rect x="313.33" y="100.11" width="1" height="1" fill="#666"/>
<rect x="315.93" y="98.65" width="1" height="1" fill="#666"/>
<rect x="344.11" y="104.16" width="1" height="1" fill="#666"/>
<rect x="342.7" y="101.21" width="1" height="1" fill="#666"/>
<rect x="340.58" y="102.29" width="1" height="1" fill="#888"/>
<rect x="320.58" y="106.89" width="1" height="1" fill="#999"/>
<rect x="343.21" y="97.48" width="1" height="1" fill="#666"/>
<rect x="331.67" y="104.68" width="1" height="1" fill="#777"/>
<line x1="287.2" y1="37.6" x2="287.2" y2="115.2" stroke="#444" stroke-width="1" />
<line x1="287.2" y1="115.2" x2="354.8" y2="115.2" stroke="#444" stroke-width="1" />
<line x1="286" y1="37.6" x2="286" y2="115" stroke="#999" stroke-width="1" stroke-dasharray="0.8 2"/>
<line x1="287.2" y1="116.3" x2="354.8" y2="116.3" stroke="#999" stroke-width="1" stroke-dasharray="0.8 2"/>
<rect x="290.5" y="38.5" width="62" height="55.8" fill="none" stroke="#222" stroke-width="1.2"/>
<line x1="309.8" y1="38.5" x2="309.8" y2="110.2" stroke="#222" stroke-width="1.2" />
<rect x="290.5" y="94.3" width="19.3" height="15.9" fill="none" stroke="#222" stroke-width="1.2"/>
<text x="293" y="52.6" font-size="8.5" font-weight="normal" text-anchor="start" fill="#222" stroke="#222" stroke-width="0.2" textLength="14" lengthAdjust="spacingAndGlyphs">G 1</text>
<text x="313.6" y="52.6" font-size="8.5" font-weight="normal" text-anchor="start" fill="#222" stroke="#222" stroke-width="0.2" textLength="35" lengthAdjust="spacingAndGlyphs">S/G2/M</text>
<text x="293" y="105.6" font-size="10.5" font-weight="normal" text-anchor="start" fill="#333" textLength="13.6" lengthAdjust="spacingAndGlyphs">G0</text>
<text x="294" y="127.2" font-size="11.2" font-weight="bold" text-anchor="start" fill="#000" textLength="45.6" lengthAdjust="spacingAndGlyphs">Hoechst</text>
<text transform="translate(281.52,81) rotate(-90)" x="0" y="0" font-size="11.8" font-weight="bold" text-anchor="middle" fill="#000" textLength="49" lengthAdjust="spacingAndGlyphs">Pyronin Y</text>
<text x="1.6" y="217" font-size="25.5" font-weight="bold" text-anchor="start" fill="#000" >C</text>
<rect x="56.5" y="219.5" width="246" height="142" fill="none" stroke="#a8a8a8" stroke-width="1"/>
<text x="52.4" y="368" font-size="12.3" font-weight="normal" text-anchor="end" fill="#000" >0</text>
<text x="52.4" y="350.25" font-size="12.3" font-weight="normal" text-anchor="end" fill="#000" >10</text>
<text x="52.4" y="332.5" font-size="12.3" font-weight="normal" text-anchor="end" fill="#000" >20</text>
<text x="52.4" y="314.75" font-size="12.3" font-weight="normal" text-anchor="end" fill="#000" >30</text>
<text x="52.4" y="297" font-size="12.3" font-weight="normal" text-anchor="end" fill="#000" >40</text>
<text x="52.4" y="279.25" font-size="12.3" font-weight="normal" text-anchor="end" fill="#000" >50</text>
<text x="52.4" y="261.5" font-size="12.3" font-weight="normal" text-anchor="end" fill="#000" >60</text>
<text x="52.4" y="243.75" font-size="12.3" font-weight="normal" text-anchor="end" fill="#000" >70</text>
<text x="52.4" y="226" font-size="12.3" font-weight="normal" text-anchor="end" fill="#000" >80</text>
<text transform="translate(31.58,296.5) rotate(-90)" x="0" y="0" font-size="12.8" font-weight="normal" text-anchor="middle" fill="#000" textLength="162.5" lengthAdjust="spacingAndGlyphs" stroke="#000" stroke-width="0.3">% of LT-HSCs in Cell Cycle</text>
<rect x="73.75" y="327.5" width="23.75" height="34" fill="#000"/>
<rect x="98.1" y="309.35" width="22.55" height="52.15" fill="#a3a3a3" stroke="#5a5a5a" stroke-width="1.2"/>
<line x1="109.4" y1="307" x2="109.4" y2="311.25" stroke="#333" stroke-width="1" />
<line x1="107.9" y1="307" x2="110.9" y2="307" stroke="#333" stroke-width="1" />
<line x1="107.9" y1="311.25" x2="110.9" y2="311.25" stroke="#333" stroke-width="1" />
<rect x="155.7" y="238" width="24.2" height="123.5" fill="#000"/>
<line x1="167.8" y1="232.2" x2="167.8" y2="238" stroke="#333" stroke-width="1" />
<line x1="166.3" y1="232.2" x2="169.3" y2="232.2" stroke="#333" stroke-width="1" />
<rect x="180.5" y="252.5" width="22" height="109" fill="#a3a3a3" stroke="#5a5a5a" stroke-width="1.2"/>
<line x1="191.5" y1="245.7" x2="191.5" y2="258.2" stroke="#333" stroke-width="1" />
<line x1="190" y1="245.7" x2="193" y2="245.7" stroke="#333" stroke-width="1" />
<line x1="190" y1="258.2" x2="193" y2="258.2" stroke="#333" stroke-width="1" />
<rect x="237.7" y="341.2" width="24.2" height="20.3" fill="#000"/>
<line x1="249.8" y1="337.4" x2="249.8" y2="341.2" stroke="#333" stroke-width="1" />
<line x1="248.3" y1="337.4" x2="251.3" y2="337.4" stroke="#333" stroke-width="1" />
<rect x="262.5" y="347.7" width="22.6" height="13.8" fill="#a3a3a3" stroke="#5a5a5a" stroke-width="1.2"/>
<line x1="273.7" y1="343.6" x2="273.7" y2="351.3" stroke="#333" stroke-width="1" />
<line x1="272.2" y1="343.6" x2="275.2" y2="343.6" stroke="#333" stroke-width="1" />
<line x1="272.2" y1="351.3" x2="275.2" y2="351.3" stroke="#333" stroke-width="1" />
<polyline points="85.6,321 85.6,285.2 109.4,285.2 109.4,301.25" fill="none" stroke="#555" stroke-width="1"/>
<line x1="85.6" y1="326.4" x2="85.6" y2="327.5" stroke="#333" stroke-width="1" />
<line x1="84.6" y1="326.4" x2="86.6" y2="326.4" stroke="#333" stroke-width="1" />
<polygon points="97.5,276.19 98.25,278 100.21,278.15 98.72,279.43 99.18,281.34 97.5,280.32 95.82,281.34 96.28,279.43 94.79,278.15 96.75,278" fill="#111"/>
<rect x="226.3" y="227.8" width="65" height="45.4" fill="none" stroke="#efefef" stroke-width="1"/>
<rect x="238.9" y="235.7" width="9" height="9.9" fill="#000"/>
<rect x="239.4" y="257.5" width="8" height="9.4" fill="#c8c8c8" stroke="#666" stroke-width="1"/>
<text x="258.7" y="245.3" font-size="12" font-weight="normal" text-anchor="start" fill="#000" >WT</text>
<text x="257.9" y="267.4" font-size="12" font-weight="normal" text-anchor="start" fill="#000" >KO</text>
<text x="94.6" y="381.6" font-size="13.5" font-weight="normal" text-anchor="middle" fill="#000" stroke="#000" stroke-width="0.3">G0</text>
<text x="175.8" y="381.6" font-size="13.5" font-weight="normal" text-anchor="middle" fill="#000" stroke="#000" stroke-width="0.3">G1</text>
<text x="259.6" y="381.6" font-size="13.5" font-weight="normal" text-anchor="middle" fill="#000" stroke="#000" stroke-width="0.3">S/G2/M</text>
<text x="312.8" y="217.2" font-size="26.2" font-weight="bold" text-anchor="start" fill="#000" >D</text>
<rect x="362.5" y="219.5" width="120" height="142.5" fill="none" stroke="#a8a8a8" stroke-width="1"/>
<text x="359.4" y="368.17" font-size="12.2" font-weight="normal" text-anchor="end" fill="#000" >0</text>
<text x="359.4" y="354.04" font-size="12.2" font-weight="normal" text-anchor="end" fill="#000" >5</text>
<text x="359.4" y="339.91" font-size="12.2" font-weight="normal" text-anchor="end" fill="#000" >10</text>
<text x="359.4" y="325.78" font-size="12.2" font-weight="normal" text-anchor="end" fill="#000" >15</text>
<text x="359.4" y="311.65" font-size="12.2" font-weight="normal" text-anchor="end" fill="#000" >20</text>
<text x="359.4" y="297.52" font-size="12.2" font-weight="normal" text-anchor="end" fill="#000" >25</text>
<text x="359.4" y="283.39" font-size="12.2" font-weight="normal" text-anchor="end" fill="#000" >30</text>
<text x="359.4" y="269.26" font-size="12.2" font-weight="normal" text-anchor="end" fill="#000" >35</text>
<text x="359.4" y="255.13" font-size="12.2" font-weight="normal" text-anchor="end" fill="#000" >40</text>
<text x="359.4" y="241" font-size="12.2" font-weight="normal" text-anchor="end" fill="#000" >45</text>
<text x="359.4" y="226.87" font-size="12.2" font-weight="normal" text-anchor="end" fill="#000" >50</text>
<text transform="translate(337.78,293.3) rotate(-90)" x="0" y="0" font-size="12.8" font-weight="normal" text-anchor="middle" fill="#000" textLength="144" lengthAdjust="spacingAndGlyphs" stroke="#000" stroke-width="0.3">% of LSK BrdU Positive</text>
<rect x="379.5" y="244.2" width="24.5" height="117.8" fill="#000"/>
<rect x="440.7" y="266.7" width="23" height="95.3" fill="#a3a3a3" stroke="#5a5a5a" stroke-width="1.2"/>
<line x1="452.2" y1="259.5" x2="452.2" y2="273.5" stroke="#666" stroke-width="1" />
<line x1="451.2" y1="259.5" x2="453.2" y2="259.5" stroke="#666" stroke-width="1" />
<line x1="451.2" y1="273.5" x2="453.2" y2="273.5" stroke="#666" stroke-width="1" />
<line x1="391.6" y1="239.2" x2="391.6" y2="244.2" stroke="#555" stroke-width="1" />
<line x1="390.6" y1="239.2" x2="392.6" y2="239.2" stroke="#555" stroke-width="1" />
<polyline points="391.6,237.5 391.6,231.8 452.2,231.8 452.2,251.1" fill="none" stroke="#888" stroke-width="1.2"/>
<polygon points="421.2,222.73 422.07,224.83 424.34,225.01 422.61,226.49 423.14,228.7 421.2,227.52 419.26,228.7 419.79,226.49 418.06,225.01 420.33,224.83" fill="#111"/>
<text x="342.6" y="381.9" font-size="14" font-weight="normal" text-anchor="start" fill="#000" textLength="73.2" lengthAdjust="spacingAndGlyphs" stroke="#000" stroke-width="0.4">IGFBP2 WT</text>
<text x="423" y="381.9" font-size="14" font-weight="normal" text-anchor="start" fill="#000" textLength="71.5" lengthAdjust="spacingAndGlyphs" stroke="#000" stroke-width="0.4">IGFBP2 KO</text>
<text transform="translate(2.3,409.9) scale(0.95,1)" font-size="26.2" font-weight="bold">E</text>
<rect x="54.5" y="411.5" width="459" height="144.3" fill="none" stroke="#a8a8a8" stroke-width="1"/>
<text x="47.3" y="562.87" font-size="11.5" font-weight="normal" text-anchor="end" fill="#000" >0</text>
<text x="47.3" y="542.44" font-size="11.5" font-weight="normal" text-anchor="end" fill="#000" >0.5</text>
<text x="47.3" y="522.01" font-size="11.5" font-weight="normal" text-anchor="end" fill="#000" >1</text>
<text x="47.3" y="501.58" font-size="11.5" font-weight="normal" text-anchor="end" fill="#000" >1.5</text>
<text x="47.3" y="481.15" font-size="11.5" font-weight="normal" text-anchor="end" fill="#000" >2</text>
<text x="47.3" y="460.72" font-size="11.5" font-weight="normal" text-anchor="end" fill="#000" >2.5</text>
<text x="47.3" y="440.3" font-size="11.5" font-weight="normal" text-anchor="end" fill="#000" >3</text>
<text x="47.3" y="419.87" font-size="11.5" font-weight="normal" text-anchor="end" fill="#000" >3.5</text>
<text transform="translate(27.06,488.3) rotate(-90)" x="0" y="0" font-size="15.8" font-weight="normal" text-anchor="middle" fill="#000" textLength="139" lengthAdjust="spacingAndGlyphs" stroke="#000" stroke-width="0.25">Relative Expression</text>
<rect x="62.5" y="514.8" width="12.4" height="41" fill="#000"/>
<rect x="75.5" y="474.35" width="11" height="81.45" fill="#a3a3a3" stroke="#5a5a5a" stroke-width="1.2"/>
<line x1="81" y1="467.5" x2="81" y2="480.5" stroke="#333" stroke-width="1" />
<line x1="78" y1="467.5" x2="84" y2="467.5" stroke="#333" stroke-width="1" />
<line x1="78" y1="480.5" x2="84" y2="480.5" stroke="#333" stroke-width="1" />
<text x="74.25" y="571.1" font-size="11" font-weight="normal" text-anchor="middle" fill="#000" stroke="#000" stroke-width="0.3">p16</text>
<rect x="104.3" y="514.8" width="12.4" height="41" fill="#000"/>
<rect x="117.3" y="493.1" width="11" height="62.7" fill="#a3a3a3" stroke="#5a5a5a" stroke-width="1.2"/>
<line x1="122.8" y1="483.75" x2="122.8" y2="501.25" stroke="#333" stroke-width="1" />
<line x1="119.8" y1="483.75" x2="125.8" y2="483.75" stroke="#333" stroke-width="1" />
<line x1="119.8" y1="501.25" x2="125.8" y2="501.25" stroke="#333" stroke-width="1" />
<text x="116" y="571.1" font-size="11" font-weight="normal" text-anchor="middle" fill="#000" stroke="#000" stroke-width="0.3">p19</text>
<rect x="146.1" y="514.8" width="12.4" height="41" fill="#000"/>
<rect x="159.1" y="490.9" width="11" height="64.9" fill="#a3a3a3" stroke="#5a5a5a" stroke-width="1.2"/>
<line x1="164.6" y1="483.9" x2="164.6" y2="496.5" stroke="#333" stroke-width="1" />
<line x1="161.6" y1="483.9" x2="167.6" y2="483.9" stroke="#333" stroke-width="1" />
<line x1="161.6" y1="496.5" x2="167.6" y2="496.5" stroke="#333" stroke-width="1" />
<text x="157.7" y="571.1" font-size="11" font-weight="normal" text-anchor="middle" fill="#000" stroke="#000" stroke-width="0.3">p21</text>
<rect x="187.9" y="514.8" width="12.4" height="41" fill="#000"/>
<rect x="200.9" y="461.8" width="11" height="94" fill="#a3a3a3" stroke="#5a5a5a" stroke-width="1.2"/>
<line x1="206.4" y1="424.4" x2="206.4" y2="498.4" stroke="#333" stroke-width="1" />
<line x1="203.4" y1="424.4" x2="209.4" y2="424.4" stroke="#333" stroke-width="1" />
<line x1="203.4" y1="498.4" x2="209.4" y2="498.4" stroke="#333" stroke-width="1" />
<text x="198.2" y="571.1" font-size="11" font-weight="normal" text-anchor="middle" fill="#000" stroke="#000" stroke-width="0.3">Gfi1b</text>
<rect x="229.7" y="514.8" width="12.4" height="41" fill="#000"/>
<rect x="242.7" y="501.5" width="11" height="54.3" fill="#a3a3a3" stroke="#5a5a5a" stroke-width="1.2"/>
<line x1="248.2" y1="494.4" x2="248.2" y2="508.7" stroke="#333" stroke-width="1" />
<line x1="245.2" y1="494.4" x2="251.2" y2="494.4" stroke="#333" stroke-width="1" />
<line x1="245.2" y1="508.7" x2="251.2" y2="508.7" stroke="#333" stroke-width="1" />
<text x="241.1" y="571.1" font-size="11" font-weight="normal" text-anchor="middle" fill="#000" stroke="#000" stroke-width="0.3">p53</text>
<rect x="271.5" y="514.8" width="12.4" height="41" fill="#000"/>
<rect x="284.5" y="481.5" width="11" height="74.3" fill="#a3a3a3" stroke="#5a5a5a" stroke-width="1.2"/>
<line x1="290" y1="473.1" x2="290" y2="489" stroke="#333" stroke-width="1" />
<line x1="287" y1="473.1" x2="293" y2="473.1" stroke="#333" stroke-width="1" />
<line x1="287" y1="489" x2="293" y2="489" stroke="#333" stroke-width="1" />
<text x="282.7" y="571.1" font-size="11" font-weight="normal" text-anchor="middle" fill="#000" stroke="#000" stroke-width="0.3">p57</text>
<rect x="313.3" y="514.8" width="12.4" height="41" fill="#000"/>
<rect x="326.3" y="494.4" width="11" height="61.4" fill="#a3a3a3" stroke="#5a5a5a" stroke-width="1.2"/>
<line x1="331.8" y1="491.2" x2="331.8" y2="496.8" stroke="#333" stroke-width="1" />
<line x1="328.8" y1="491.2" x2="334.8" y2="491.2" stroke="#333" stroke-width="1" />
<line x1="328.8" y1="496.8" x2="334.8" y2="496.8" stroke="#333" stroke-width="1" />
<text x="324.3" y="571.1" font-size="11" font-weight="normal" text-anchor="middle" fill="#000" stroke="#000" stroke-width="0.3">PTEN</text>
<rect x="355.1" y="514.8" width="12.4" height="41" fill="#000"/>
<rect x="368.1" y="515.4" width="11" height="40.4" fill="#a3a3a3" stroke="#5a5a5a" stroke-width="1.2"/>
<line x1="373.6" y1="514" x2="373.6" y2="515.5" stroke="#333" stroke-width="1" />
<line x1="370.6" y1="514" x2="376.6" y2="514" stroke="#333" stroke-width="1" />
<line x1="370.6" y1="515.5" x2="376.6" y2="515.5" stroke="#333" stroke-width="1" />
<text x="367.5" y="571.1" font-size="11" font-weight="normal" text-anchor="middle" fill="#000" stroke="#000" stroke-width="0.3">c-Myc</text>
<rect x="396.9" y="514.8" width="12.4" height="41" fill="#000"/>
<rect x="409.9" y="526.8" width="11" height="29" fill="#a3a3a3" stroke="#5a5a5a" stroke-width="1.2"/>
<line x1="415.4" y1="523.4" x2="415.4" y2="528.5" stroke="#333" stroke-width="1" />
<line x1="412.4" y1="523.4" x2="418.4" y2="523.4" stroke="#333" stroke-width="1" />
<line x1="412.4" y1="528.5" x2="418.4" y2="528.5" stroke="#333" stroke-width="1" />
<text x="409.3" y="571.1" font-size="11" font-weight="normal" text-anchor="middle" fill="#000" stroke="#000" stroke-width="0.3">Bcl-2</text>
<rect x="438.7" y="514.8" width="12.4" height="41" fill="#000"/>
<rect x="451.7" y="527.8" width="11" height="28" fill="#a3a3a3" stroke="#5a5a5a" stroke-width="1.2"/>
<line x1="457.2" y1="522.3" x2="457.2" y2="533" stroke="#333" stroke-width="1" />
<line x1="454.2" y1="522.3" x2="460.2" y2="522.3" stroke="#333" stroke-width="1" />
<line x1="454.2" y1="533" x2="460.2" y2="533" stroke="#333" stroke-width="1" />
<text x="450.5" y="571.1" font-size="11" font-weight="normal" text-anchor="middle" fill="#000" stroke="#000" stroke-width="0.3">Bcl-xL</text>
<rect x="480.5" y="514.8" width="12.4" height="41" fill="#000"/>
<rect x="493.5" y="543.1" width="11" height="12.7" fill="#a3a3a3" stroke="#5a5a5a" stroke-width="1.2"/>
<line x1="499" y1="540.5" x2="499" y2="544.5" stroke="#333" stroke-width="1" />
<line x1="496" y1="540.5" x2="502" y2="540.5" stroke="#333" stroke-width="1" />
<line x1="496" y1="544.5" x2="502" y2="544.5" stroke="#333" stroke-width="1" />
<text x="492.8" y="571.1" font-size="11" font-weight="normal" text-anchor="middle" fill="#000" stroke="#000" stroke-width="0.3">Lrrfip1</text>
<polygon points="81.25,457.44 82,459.25 83.96,459.4 82.47,460.68 82.93,462.59 81.25,461.57 79.57,462.59 80.03,460.68 78.54,459.4 80.5,459.25" fill="#111"/>
<polygon points="122.5,473.19 123.25,475 125.21,475.15 123.72,476.43 124.18,478.34 122.5,477.32 120.82,478.34 121.28,476.43 119.79,475.15 121.75,475" fill="#111"/>
<polygon points="164.4,475.13 165.15,476.95 167.11,477.1 165.62,478.38 166.08,480.29 164.4,479.27 162.72,480.29 163.18,478.38 161.69,477.1 163.65,476.95" fill="#111"/>
<polygon points="289.6,463.04 290.35,464.85 292.31,465 290.82,466.28 291.28,468.19 289.6,467.17 287.92,468.19 288.38,466.28 286.89,465 288.85,464.85" fill="#111"/>
<polygon points="331.3,481.33 332.05,483.15 334.01,483.3 332.52,484.58 332.98,486.49 331.3,485.47 329.62,486.49 330.08,484.58 328.59,483.3 330.55,483.15" fill="#111"/>
<polygon points="414.7,504.74 415.45,506.55 417.41,506.7 415.92,507.98 416.38,509.89 414.7,508.87 413.02,509.89 413.48,507.98 411.99,506.7 413.95,506.55" fill="#111"/>
<polygon points="498.4,504.74 499.15,506.55 501.11,506.7 499.62,507.98 500.08,509.89 498.4,508.87 496.72,509.89 497.18,507.98 495.69,506.7 497.65,506.55" fill="#111"/>
<rect x="435" y="421.2" width="66.6" height="44.6" fill="none" stroke="#efefef" stroke-width="1"/>
<rect x="448.1" y="428.7" width="9.5" height="10.3" fill="#000"/>
<rect x="448.6" y="450.5" width="8.5" height="9.4" fill="#c8c8c8" stroke="#666" stroke-width="1"/>
<text x="467.6" y="438.3" font-size="12" font-weight="normal" text-anchor="start" fill="#000" >WT</text>
<text x="466.8" y="460" font-size="12" font-weight="normal" text-anchor="start" fill="#000" >KO</text>
</svg></body></html>
